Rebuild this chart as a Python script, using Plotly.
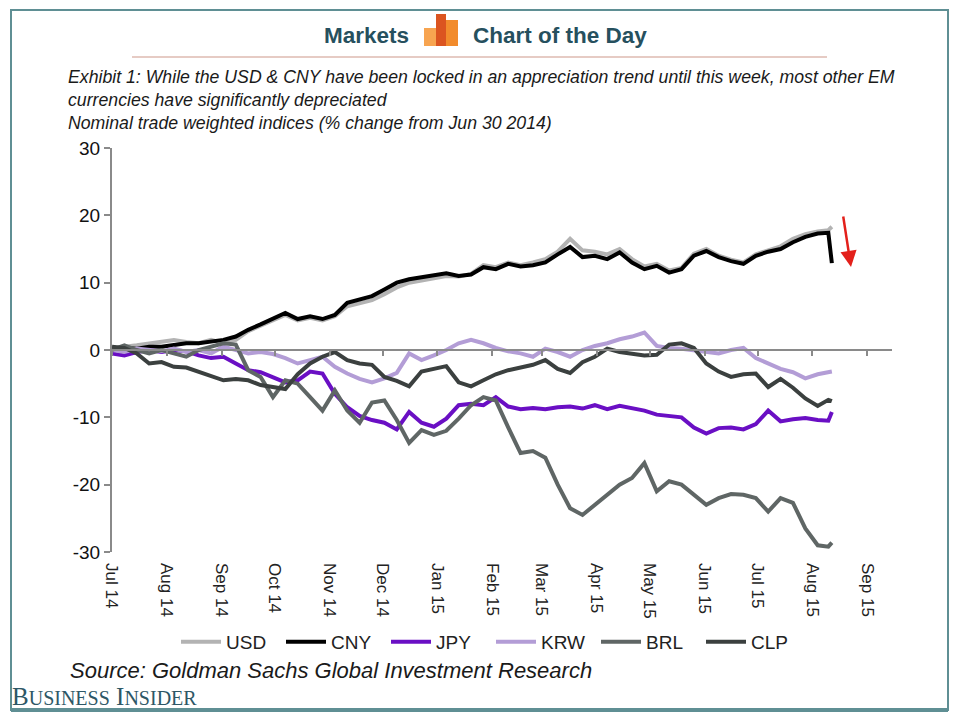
import pandas as pd
import plotly.graph_objects as go

# ---------------- data (weekly readings, % change from Jun 30 2014) ----------------
DATES = list(pd.date_range("2014-07-01", periods=58, freq="7D").strftime("%Y-%m-%d")) + ["2015-08-10", "2015-08-12"]

USD = [0, 0.5, 0.7, 1.0, 1.3, 1.5, 1.2, 1.0, 1.5, 1.0,
       1.5, 2.8, 3.6, 4.4, 5.2, 4.4, 4.8, 4.4, 5.0, 6.5,
       7.0, 7.4, 8.3, 9.3, 10.0, 10.3, 10.6, 11.0, 10.9, 11.3,
       12.6, 12.3, 13.0, 12.6, 13.0, 13.5, 14.6, 16.5, 14.8, 14.6,
       14.2, 15.0, 13.5, 12.4, 12.8, 11.8, 12.2, 14.3, 15.0, 14.0,
       13.4, 13.0, 14.2, 14.8, 15.4, 16.5, 17.2, 17.6, 17.8, 18.3]

CNY = [0, 0.3, 0.2, 0.5, 0.5, 0.8, 1.0, 1.0, 1.2, 1.5,
       2.0, 3.0, 3.8, 4.6, 5.5, 4.6, 5.0, 4.6, 5.2, 7.0,
       7.5, 8.0, 9.0, 10.0, 10.5, 10.8, 11.0, 11.4, 11.0, 11.2,
       12.3, 12.0, 12.8, 12.4, 12.6, 13.0, 14.2, 15.3, 13.8, 14.0,
       13.5, 14.5, 13.0, 12.0, 12.5, 11.5, 12.0, 14.0, 14.7, 13.8,
       13.2, 12.8, 14.0, 14.6, 15.0, 16.0, 16.8, 17.3, 17.4, 12.9]

JPY = [-0.5, -0.8, -0.3, 0.0, -0.3, 0.0, -0.2, -0.8, -1.2, -1.0,
       -2.0, -3.0, -3.3, -4.0, -4.8, -4.5, -3.2, -3.5, -6.5, -8.5,
       -9.8, -10.4, -10.8, -11.8, -9.2, -10.8, -11.4, -10.2, -8.2, -8.0,
       -8.2, -7.0, -8.4, -8.8, -8.6, -8.8, -8.5, -8.4, -8.7, -8.2,
       -8.8, -8.3, -8.6, -9.0, -9.6, -9.8, -10.0, -11.5, -12.4, -11.6,
       -11.5, -11.8, -11.0, -9.0, -10.6, -10.3, -10.1, -10.4, -10.5, -9.2]

KRW = [0, -0.3, 0.2, 0, -0.2, 0.2, -0.3, 0.0, -0.5, 0.5,
       0, -0.5, -0.3, -0.6, -1.2, -2.0, -1.5, -1.0, -2.5, -3.5,
       -4.3, -4.8, -4.2, -3.4, -0.5, -1.5, -0.8, 0.0, 1.0, 1.5,
       1.0, 0.3, -0.2, -0.5, -1.0, 0.2, -0.3, -1.0, 0.0, 0.6,
       1.0, 1.6, 2.0, 2.6, 0.6, 0.3, 0.2, 0.0, -0.3, -0.5,
       0.0, 0.3, -1.2, -2.0, -2.8, -3.3, -4.2, -3.6, -3.4, -3.2]

BRL = [0, 0.7, 0.0, -0.5, 0.0, -0.5, -1.0, 0.0, 0.5, 1.0,
       0.8, -3.0, -4.0, -7.0, -4.5, -5.0, -7.0, -9.0, -6.0, -9.0,
       -10.8, -7.8, -7.5, -10.4, -13.8, -11.9, -12.6, -12.0, -10.2, -8.2,
       -7.0, -7.5, -11.5, -15.3, -15.0, -16.0, -20.0, -23.5, -24.5, -23.0,
       -21.4, -20.0, -19.0, -16.8, -21.0, -19.5, -20.0, -21.5, -23.0, -22.0,
       -21.4, -21.5, -22.0, -24.0, -22.0, -22.7, -26.5, -29.0, -29.2, -28.6]

CLP = [0.5, 0.3, -0.5, -2.0, -1.8, -2.5, -2.6, -3.2, -3.8, -4.5,
       -4.3, -4.5, -5.2, -5.5, -5.8, -3.6, -2.0, -1.0, -0.3, -1.5,
       -2.0, -2.2, -4.0, -4.6, -5.4, -3.2, -2.8, -2.4, -4.8, -5.4,
       -4.5, -3.6, -3.0, -2.6, -2.2, -1.5, -2.8, -3.4, -1.8, -1.0,
       0.2, -0.3, -0.6, -0.8, -0.7, 0.8, 1.0, 0.3, -2.0, -3.2,
       -4.0, -3.6, -3.5, -5.5, -4.3, -5.6, -7.2, -8.3, -7.4, -7.6]

SERIES = ["USD", "CNY", "JPY", "KRW", "BRL", "CLP"]
VALUES = [USD, CNY, JPY, KRW, BRL, CLP]
COLORS = ["#b3b3b3", "#000000", "#6a0fc4", "#b39dd6", "#5f6665", "#3b403f"]

Y_TICKS = [-30, -20, -10, 0, 10, 20, 30]
Y_TICK_TEXT = ["-30", "-20", "-10", "0", "10", "20", "30"]
X_RANGE = ["2014-07-01", "2015-09-15"]

# ---------------- layout geometry ----------------
# page body has an 8px margin, so the figure is drawn 8px smaller and offset
OFF = 8
W, H = 960 - 2 * OFF, 720 - 2 * OFF
L, R, T, B = 112, 892, 148, 552          # plot area in page pixels


def px(x):
    return (x - L) / (R - L)


def py(y):
    return (B - y) / (B - T)


FONT = "Liberation Sans, Arial, sans-serif"
HEAD = "Liberation Sans, Arial, sans-serif"

fig = go.Figure()
for name, vals, col in zip(SERIES, VALUES, COLORS):
    fig.add_trace(go.Scatter(x=DATES, y=vals, name=name, mode="lines",
                             line=dict(color=col, width=4)))
# helper trace so the label axis renders
fig.add_trace(go.Scatter(x=[DATES[0]], y=[None], xaxis="x2", showlegend=False, hoverinfo="skip"))

shapes = [
    # outer frame
    dict(type="rect", xref="paper", yref="paper", x0=px(11), x1=px(948), y0=py(710), y1=py(10),
         line=dict(color="#5f8f94", width=2), layer="below"),
    dict(type="line", xref="paper", yref="paper", x0=px(11), x1=px(948), y0=py(710), y1=py(710),
         line=dict(color="#5f8f94", width=4)),
    # header separator
    dict(type="line", xref="paper", yref="paper", x0=px(132), x1=px(827), y0=py(57), y1=py(57),
         line=dict(color="#e6cbc4", width=2)),
    # header icon bars
    dict(type="rect", xref="paper", yref="paper", x0=px(424), x1=px(436), y0=py(46), y1=py(28),
         fillcolor="#f7a450", line=dict(width=0)),
    dict(type="rect", xref="paper", yref="paper", x0=px(436), x1=px(446), y0=py(46), y1=py(14),
         fillcolor="#db5420", line=dict(width=0)),
    dict(type="rect", xref="paper", yref="paper", x0=px(446), x1=px(458), y0=py(46), y1=py(20),
         fillcolor="#f28b2c", line=dict(width=0)),
]

annotations = [
    dict(text="<b>Markets</b>", x=px(322), y=py(36), xanchor="left", yanchor="middle",
         font=dict(family=HEAD, size=22.5, color="#26505e")),
    dict(text="<b>Chart of the Day</b>", x=px(471), y=py(36), xanchor="left", yanchor="middle",
         font=dict(family=HEAD, size=22.5, color="#26505e")),
    dict(text="<i>Exhibit 1: While the USD &amp; CNY have been locked in an appreciation trend until this week, most other EM</i>",
         x=px(66), y=py(77), xanchor="left", yanchor="middle", font=dict(family=FONT, size=17.7, color="#1a1a1a")),
    dict(text="<i>currencies have significantly depreciated</i>",
         x=px(66), y=py(100), xanchor="left", yanchor="middle", font=dict(family=FONT, size=17.7, color="#1a1a1a")),
    dict(text="<i>Nominal trade weighted indices (% change from Jun 30 2014)</i>",
         x=px(66), y=py(123), xanchor="left", yanchor="middle", font=dict(family=FONT, size=17.7, color="#1a1a1a")),
    dict(text="<i>Source: Goldman Sachs Global Investment Research</i>",
         x=px(68), y=py(670), xanchor="left", yanchor="middle", font=dict(family=FONT, size=22, color="#1a1a1a")),
    dict(text="B<span style='font-size:20px'>USINESS</span> I<span style='font-size:20px'>NSIDER</span>",
         x=px(10), y=py(696), xanchor="left", yanchor="middle",
         font=dict(family="Liberation Serif, Times New Roman, serif", size=25, color="#2d5766")),
    # red arrow
    dict(text="", x=px(851), y=py(267), ax=-8, ay=-52, showarrow=True, arrowhead=2, arrowsize=1.3,
         arrowwidth=2.5, arrowcolor="#e3201b", standoff=0),
]

for a in annotations:
    a.setdefault("xref", "paper")
    a.setdefault("yref", "paper")
    a.setdefault("showarrow", False)

fig.update_layout(
    width=W, height=H,
    margin=dict(l=L - OFF, r=W - (R - OFF), t=T - OFF, b=H - (B - OFF)),
    paper_bgcolor="white", plot_bgcolor="white",
    font=dict(family=FONT, color="#222"),
    showlegend=True,
    legend=dict(orientation="h", x=px(491), y=py(642), xanchor="center", yanchor="middle",
                font=dict(family=FONT, size=19, color="#222"), itemwidth=40,
                entrywidth=50, entrywidthmode="pixels",
                bgcolor="rgba(0,0,0,0)"),
    xaxis=dict(type="date", range=X_RANGE, anchor="free", position=0.5,
               showline=True, linecolor="#8a8a8a", linewidth=2,
               ticks="outside", ticklen=5, tickcolor="#8a8a8a", tickwidth=2,
               dtick="M1", tick0="2014-07-01", showticklabels=False,
               showgrid=False, zeroline=False),
    xaxis2=dict(type="date", range=X_RANGE, overlaying="x", anchor="y", side="bottom",
                dtick="M1", tick0="2014-07-01", tickformat="%b %y", tickangle=90,
                ticks="", showline=False, showgrid=False, zeroline=False,
                ticklabelstandoff=10,
                tickfont=dict(family=FONT, size=17, color="#222")),
    yaxis=dict(range=[-30, 30], tickvals=Y_TICKS, ticktext=Y_TICK_TEXT,
               showline=True, linecolor="#8a8a8a", linewidth=2,
               ticks="outside", ticklen=6, tickcolor="#8a8a8a", tickwidth=2,
               showgrid=False, zeroline=False,
               tickfont=dict(family=FONT, size=19, color="#111")),
    shapes=shapes,
    annotations=annotations,
)

fig.write_html("out.html")
